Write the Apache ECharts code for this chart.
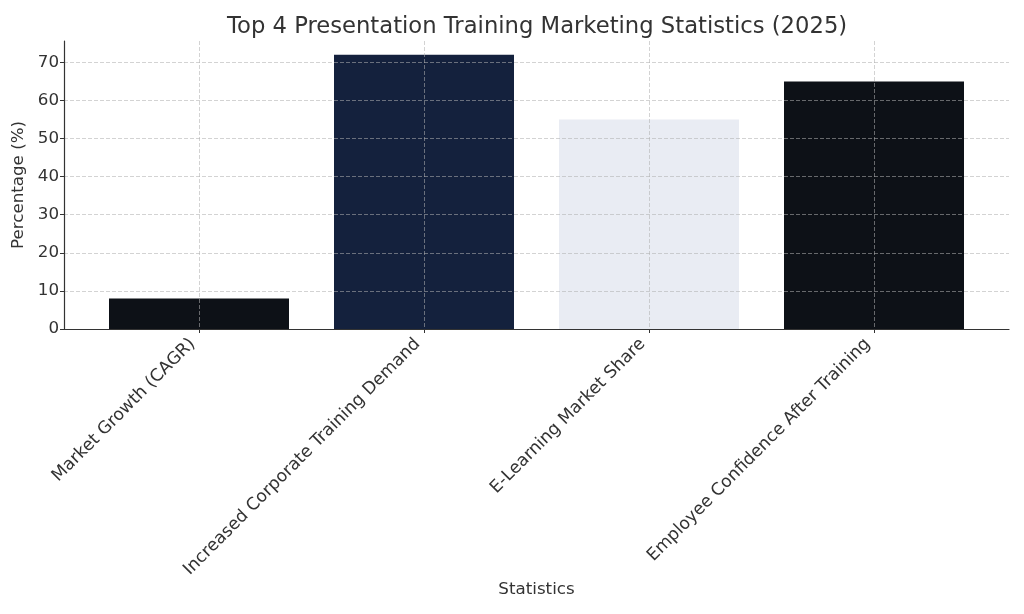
<!DOCTYPE html>
<html>
<head>
<meta charset="utf-8">
<script src="https://cdn.jsdelivr.net/npm/echarts@6/dist/echarts.min.js"></script>
<style>
  html, body { margin: 0; padding: 0; background: #fff; }
  #chart { width: 1024px; height: 614px; }
</style>
</head>
<body>
<div id="chart"></div>
<script>
var categories = ['Market Growth (CAGR)', 'Increased Corporate Training Demand', 'E-Learning Market Share', 'Employee Confidence After Training'];
var values = [8, 72, 55, 65];
var barColors = ['#0d1117', '#14213d', '#e9ecf3', '#0d1117'];
var yTicks = [0, 10, 20, 30, 40, 50, 60, 70];
var xTicks = [0, 1, 2, 3];

var chart = echarts.init(document.getElementById('chart'));
var font = 'DejaVu Sans';
var gridLine = { show: true, lineStyle: { color: 'rgba(176,176,176,0.7)', type: [4, 2], width: 0.8 } };

var option = {
  animation: false,
  textStyle: { fontFamily: font },
  title: {
    text: 'Top 4 Presentation Training Marketing Statistics (2025)',
    left: 222,
    top: 11,
    textStyle: { fontFamily: font, fontSize: 22.7, fontWeight: 'normal', color: '#333' }
  },
  grid: { left: 64, right: 15, top: 41, bottom: 285 },
  xAxis: {
    type: 'value',
    min: -0.6,
    max: 3.6,
    z: 5,
    name: 'Statistics',
    nameLocation: 'middle',
    nameGap: 252,
    nameTextStyle: { fontSize: 16.7, color: '#333' },
    axisLine: { show: true, lineStyle: { color: '#333', width: 1.2 } },
    axisTick: { show: true, length: 4, customValues: xTicks, lineStyle: { color: '#333' } },
    axisLabel: {
      customValues: xTicks,
      rotate: 45,
      fontSize: 17.2,
      color: '#333',
      margin: 6,
      padding: [0, 9, 0, 0],
      formatter: function (v) { return categories[Math.round(v)]; }
    },
    splitLine: gridLine
  },
  yAxis: {
    type: 'value',
    min: 0,
    max: 75.6,
    z: 5,
    name: 'Percentage (%)',
    nameLocation: 'middle',
    nameGap: 22,
    nameTextStyle: { fontSize: 16.7, color: '#333' },
    axisLine: { show: true, onZero: false, lineStyle: { color: '#333', width: 1.2 } },
    axisTick: { show: true, length: 4, customValues: yTicks, lineStyle: { color: '#333' } },
    axisLabel: { customValues: yTicks, fontSize: 16.7, color: '#333', margin: 5 },
    splitLine: gridLine
  },
  series: [{
    type: 'bar',
    barWidth: 180,
    z: 1,
    data: values.map(function (v, i) {
      return { value: [i, v], itemStyle: { color: barColors[i] } };
    })
  }]
};
chart.setOption(option);
</script>
</body>
</html>
